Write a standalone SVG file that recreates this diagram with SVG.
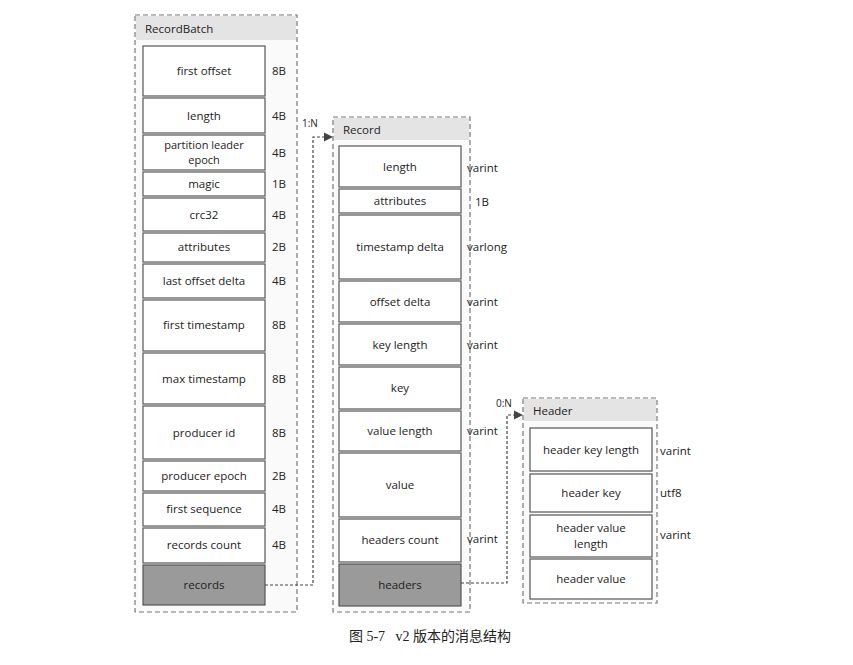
<svg xmlns="http://www.w3.org/2000/svg" width="853" height="665" viewBox="0 0 853 665">
<style>
.outer{fill:#fafafa;stroke:#777;stroke-width:1.2;stroke-dasharray:5,3}
.band{fill:#e4e4e4;stroke:none}
.f{fill:#fff;stroke:#555;stroke-width:1.2}
.g{fill:#9a9a9a;stroke:#555;stroke-width:1.2}
text{font-family:"Open Sans","Liberation Sans",sans-serif;font-size:11.5px;fill:#222}
.c{text-anchor:middle}
.conn{fill:none;stroke:#444;stroke-width:1.2;stroke-dasharray:3,2}
.cap{font-family:"Liberation Serif","Noto Sans CJK SC",serif;font-size:14px}
</style>
<defs><marker id="a" markerWidth="8" markerHeight="8" refX="7" refY="4" orient="auto"><path d="M0,0 L8,4 L0,8 z" fill="#444"/></marker></defs>
<rect width="853" height="665" fill="#fff"/>
<g id="RecordBatch">
<rect class="outer" x="135" y="15" width="162" height="597"/>
<rect class="band" x="136" y="16" width="160" height="24"/>
<text x="145" y="33">RecordBatch</text>
<rect class="f" x="143" y="46" width="122" height="50"/><text class="c" x="204" y="75">first offset</text><text x="272" y="75">8B</text>
<rect class="f" x="143" y="98" width="122" height="35"/><text class="c" x="204" y="120">length</text><text x="272" y="120">4B</text>
<rect class="f" x="143" y="135" width="122" height="35"/><text class="c" x="204" y="149" style="font-size:11px">partition leader</text><text class="c" x="204" y="164" style="font-size:11px">epoch</text><text x="272" y="157">4B</text>
<rect class="f" x="143" y="172" width="122" height="24"/><text class="c" x="204" y="188">magic</text><text x="272" y="188">1B</text>
<rect class="f" x="143" y="198" width="122" height="33"/><text class="c" x="204" y="219">crc32</text><text x="272" y="219">4B</text>
<rect class="f" x="143" y="233" width="122" height="29"/><text class="c" x="204" y="251">attributes</text><text x="272" y="251">2B</text>
<rect class="f" x="143" y="264" width="122" height="34"/><text class="c" x="204" y="285">last offset delta</text><text x="272" y="285">4B</text>
<rect class="f" x="143" y="300" width="122" height="51"/><text class="c" x="204" y="329">first timestamp</text><text x="272" y="329">8B</text>
<rect class="f" x="143" y="353" width="122" height="51"/><text class="c" x="204" y="383">max timestamp</text><text x="272" y="383">8B</text>
<rect class="f" x="143" y="406" width="122" height="53"/><text class="c" x="204" y="437">producer id</text><text x="272" y="437">8B</text>
<rect class="f" x="143" y="461" width="122" height="30"/><text class="c" x="204" y="480">producer epoch</text><text x="272" y="480">2B</text>
<rect class="f" x="143" y="493" width="122" height="33"/><text class="c" x="204" y="513">first sequence</text><text x="272" y="513">4B</text>
<rect class="f" x="143" y="528" width="122" height="35"/><text class="c" x="204" y="549">records count</text><text x="272" y="549">4B</text>
<rect class="g" x="143" y="565" width="122" height="40"/><text class="c" x="204" y="589">records</text>
</g>
<g id="Record">
<rect class="outer" x="333" y="117" width="137" height="495"/>
<rect class="band" x="334" y="118" width="135" height="22"/>
<text x="343" y="134">Record</text>
<rect class="f" x="339" y="146" width="122" height="41"/><text class="c" x="400" y="171">length</text><text x="467" y="172">varint</text>
<rect class="f" x="339" y="189" width="122" height="24"/><text class="c" x="400" y="205">attributes</text><text x="475" y="206">1B</text>
<rect class="f" x="339" y="215" width="122" height="64"/><text class="c" x="400" y="251">timestamp delta</text><text x="467" y="251">varlong</text>
<rect class="f" x="339" y="281" width="122" height="41"/><text class="c" x="400" y="306">offset delta</text><text x="467" y="306">varint</text>
<rect class="f" x="339" y="324" width="122" height="41"/><text class="c" x="400" y="349">key length</text><text x="467" y="349">varint</text>
<rect class="f" x="339" y="367" width="122" height="42"/><text class="c" x="400" y="392">key</text>
<rect class="f" x="339" y="411" width="122" height="40"/><text class="c" x="400" y="435">value length</text><text x="467" y="435">varint</text>
<rect class="f" x="339" y="453" width="122" height="64"/><text class="c" x="400" y="489">value</text>
<rect class="f" x="339" y="519" width="122" height="43"/><text class="c" x="400" y="544">headers count</text><text x="467" y="543">varint</text>
<rect class="g" x="339" y="564" width="122" height="42"/><text class="c" x="400" y="589">headers</text>
</g>
<g id="Header">
<rect class="outer" x="523" y="398" width="134" height="205"/>
<rect class="band" x="524" y="399" width="132" height="22"/>
<text x="533" y="415">Header</text>
<rect class="f" x="530" y="428" width="122" height="43"/><text class="c" x="591" y="454">header key length</text><text x="660" y="455">varint</text>
<rect class="f" x="530" y="474" width="122" height="38"/><text class="c" x="591" y="497">header key</text><text x="660" y="497">utf8</text>
<rect class="f" x="530" y="515" width="122" height="42"/><text class="c" x="591" y="532">header value</text><text class="c" x="591" y="548">length</text><text x="660" y="539">varint</text>
<rect class="f" x="530" y="559" width="122" height="40"/><text class="c" x="591" y="583">header value</text>
</g>
<g id="connectors">
<path class="conn" d="M265,585 H313 V137 H332" marker-end="url(#a)"/>
<text x="302" y="127" style="font-size:10px">1:N</text>
<path class="conn" d="M461,583 H507 V415 H522" marker-end="url(#a)"/>
<text x="496" y="407" style="font-size:10px">0:N</text>
</g>
<text class="cap c" x="430" y="641" xml:space="preserve" style="white-space:pre">图 5-7   v2 版本的消息结构</text>
</svg>
